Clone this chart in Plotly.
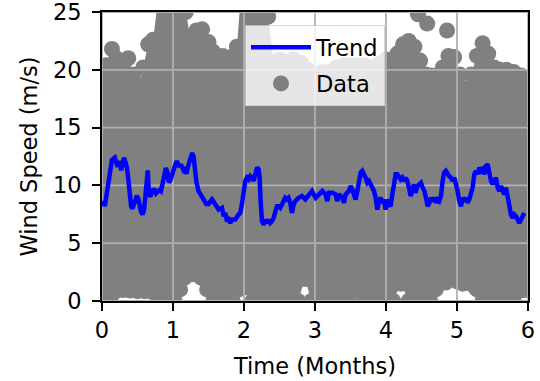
import plotly.graph_objects as go

# Axis ticks
x_ticks = [0, 1, 2, 3, 4, 5, 6]
y_ticks = [0, 5, 10, 15, 20, 25]

# Upper envelope of the raw wind-speed readings (months, m/s)
high_months = [0.00, 0.06, 0.14, 0.20, 0.28, 0.37, 0.44, 0.52, 0.58, 0.65, 0.72, 0.78, 0.88, 0.98,
               1.08, 1.18, 1.25, 1.33, 1.41, 1.50, 1.56, 1.62, 1.70, 1.78, 1.85, 1.90, 1.95, 2.05,
               2.15, 2.25, 2.34, 2.42, 2.50, 2.60, 2.70, 2.80, 2.90, 3.00, 3.10, 3.20, 3.30, 3.40,
               3.50, 3.60, 3.70, 3.80, 3.90, 4.00, 4.08, 4.16, 4.24, 4.32, 4.40, 4.48, 4.56, 4.64,
               4.72, 4.80, 4.88, 4.96, 5.04, 5.12, 5.20, 5.28, 5.36, 5.44, 5.52, 5.60, 5.70, 5.80,
               5.90, 6.00]
high_speed = [19.6, 20.4, 21.8, 21.0, 20.6, 21.0, 19.6, 18.6, 20.2, 22.2, 22.6, 25.6, 26.0, 26.0,
              26.0, 25.0, 22.6, 23.4, 23.5, 22.4, 21.6, 21.0, 21.2, 21.0, 21.2, 22.0, 26.0, 26.0,
              26.0, 26.0, 24.6, 20.6, 20.9, 20.7, 20.9, 20.6, 20.0, 19.6, 19.8, 19.8, 20.2, 20.4,
              20.4, 20.4, 20.4, 20.2, 20.5, 20.9, 20.4, 21.4, 22.2, 22.5, 22.0, 20.8, 19.6, 19.5,
              19.5, 20.2, 21.2, 21.1, 19.6, 18.4, 19.6, 21.2, 22.3, 21.4, 20.2, 20.0, 20.0, 19.8,
              19.5, 19.3]

# Lower envelope of the raw readings
low_months = [0.00, 0.12, 0.20, 0.30, 0.40, 0.50, 0.60, 0.70, 0.80, 0.92, 1.02, 1.10, 1.16, 1.24,
              1.32, 1.40, 1.48, 1.57, 1.70, 1.84, 1.93, 1.98, 2.03, 2.12, 2.40, 2.70, 2.76, 2.86,
              2.95, 3.10, 3.30, 3.48, 3.56, 3.61, 3.70, 3.90, 4.10, 4.21, 4.32, 4.50, 4.62, 4.70,
              4.76, 4.84, 4.93, 5.00, 5.08, 5.16, 5.22, 5.28, 5.36, 5.50, 5.70, 5.80, 5.88, 5.94,
              6.00]
low_speed = [0.0, 0.0, 0.85, 0.95, 0.9, 0.85, 0.85, 0.8, 0.0, 0.0, 0.0, 1.0, 2.0, 2.3,
             2.3, 2.0, 1.0, 0.0, 0.0, 0.0, 1.0, 1.5, 1.2, 0.0, 0.0, 0.0, 0.0, 1.9,
             0.0, 0.0, 0.0, 0.0, 0.9, 1.0, 0.0, 0.0, 0.0, 1.5, 0.0, 0.0, 0.0, 1.0,
             1.5, 1.6, 2.3, 1.7, 1.5, 1.6, 1.4, 1.0, 0.0, 0.0, 0.0, 0.0, 0.9, 0.95,
             0.95]

# Isolated gusts above the main cloud
gust_months = [4.45, 4.58, 4.86]
gust_speed = [24.8, 24.0, 23.4]

# Smoothed trend
trend_months = [
    0.00, 0.02, 0.04, 0.06, 0.08, 0.10, 0.11, 0.12, 0.14, 0.16, 0.18, 0.20, 0.22, 0.23, 0.25,
    0.27, 0.29, 0.31, 0.33, 0.35, 0.37, 0.39, 0.41, 0.43, 0.45, 0.47, 0.49, 0.51, 0.53, 0.55,
    0.57, 0.59, 0.61, 0.63, 0.645, 0.66, 0.68, 0.70, 0.72, 0.74, 0.76, 0.79, 0.81, 0.83, 0.86,
    0.88, 0.90, 0.92, 0.94, 0.96, 0.98, 1.00, 1.02, 1.05, 1.07, 1.09, 1.11, 1.13, 1.15, 1.17,
    1.19, 1.21, 1.23, 1.25, 1.27, 1.29, 1.31, 1.33, 1.36, 1.39, 1.43, 1.47, 1.50,
    1.55, 1.596, 1.643, 1.690, 1.713, 1.737, 1.760, 1.784, 1.807, 1.83, 1.877, 1.924, 1.948,
    1.97, 1.995, 2.018, 2.042, 2.065, 2.089, 2.112, 2.135, 2.159, 2.183, 2.206, 2.22, 2.234,
    2.253, 2.277, 2.30, 2.324, 2.347, 2.37, 2.394, 2.417, 2.44, 2.464, 2.488, 2.511, 2.535,
    2.558, 2.581, 2.605, 2.628, 2.652, 2.675, 2.70, 2.722, 2.77, 2.816, 2.863, 2.91, 2.957,
    3.009, 3.056, 3.103, 3.150, 3.173, 3.197, 3.244, 3.291, 3.314, 3.338, 3.385, 3.408, 3.431,
    3.478, 3.502, 3.525, 3.549, 3.572, 3.596, 3.619, 3.643, 3.666, 3.69, 3.713, 3.737, 3.76,
    3.784, 3.807, 3.831, 3.854, 3.878, 3.901, 3.924, 3.948, 3.971, 3.995, 4.018, 4.042, 4.065,
    4.089, 4.112, 4.136, 4.159, 4.183, 4.206, 4.23, 4.253, 4.277, 4.30, 4.324, 4.347, 4.37,
    4.394, 4.417, 4.441,
    4.469, 4.493, 4.516, 4.54, 4.563, 4.587, 4.61, 4.633, 4.657, 4.68, 4.704, 4.727, 4.75,
    4.774, 4.797, 4.82, 4.844, 4.868, 4.89, 4.915, 4.938, 4.962, 4.985, 5.009, 5.032, 5.056,
    5.079, 5.103, 5.126, 5.15, 5.173, 5.197, 5.22, 5.244, 5.267, 5.291, 5.314, 5.338, 5.361,
    5.385, 5.408, 5.432, 5.455, 5.479, 5.502, 5.526, 5.549, 5.573, 5.596, 5.62, 5.643, 5.667,
    5.69, 5.714, 5.737, 5.76, 5.784, 5.808, 5.831, 5.855, 5.878, 5.901, 5.925, 5.948]
trend_speed = [
    8.3, 8.6, 8.2, 9.0, 9.6, 10.2, 10.7, 11.6, 12.2, 12.3, 12.4, 12.0, 11.6, 11.8, 12.1,
    11.3, 12.2, 12.4, 12.0, 11.6, 10.6, 8.9, 8.2, 8.0, 8.4, 8.8, 9.1, 8.9, 8.1, 7.7,
    7.5, 7.8, 9.0, 10.4, 11.3, 9.4, 9.0, 9.4, 9.6, 9.6, 9.3, 9.5, 9.6, 9.5, 10.2,
    11.0, 11.5, 11.2, 10.3, 10.4, 10.8, 11.0, 11.5, 12.1, 11.9, 11.6, 11.8, 11.4, 11.3, 11.4,
    11.0, 11.6, 12.1, 12.6, 12.8, 12.5, 10.7, 10.3, 9.5, 9.2, 8.8, 8.4, 8.4,
    8.79, 8.35, 7.91, 8.06, 7.33, 7.62, 6.9, 7.04, 6.75, 7.04, 7.04, 7.48, 7.62,
    8.35, 9.51, 10.38, 10.67, 10.52, 10.8, 10.67, 10.38, 11.25, 11.54, 11.4, 10.67, 8.64,
    6.9, 6.6, 7.04, 6.75, 7.04, 6.75, 6.9, 7.19, 7.77, 8.2, 8.2, 8.06, 8.35,
    8.64, 8.93, 8.79, 8.93, 8.5, 7.62, 8.35, 8.64, 8.93, 9.08, 8.79, 9.22, 9.51,
    8.93, 9.22, 9.51, 9.22, 8.64, 9.36, 9.36, 9.22, 8.64, 9.22, 8.93, 8.49, 9.22,
    9.51, 9.94, 9.65, 9.22, 8.78, 9.51, 10.67, 11.1, 11.25, 10.8, 10.67, 10.23, 10.38,
    10.09, 9.8, 9.51, 8.93, 7.9, 8.64, 8.93, 8.49, 8.78, 7.9, 8.78, 8.35, 8.2,
    9.22, 10.23, 10.96, 10.96, 10.67, 10.52, 10.67, 10.38, 10.67, 10.38, 9.8, 9.07, 9.51,
    10.09, 9.36, 9.94,
    10.09, 10.23, 9.8, 9.51, 8.93, 8.2, 8.49, 8.93, 8.64, 8.93, 8.49, 8.78, 8.64,
    9.07, 10.38, 11.1, 11.25, 10.96, 10.8, 10.67, 10.38, 10.67, 10.23, 9.51, 8.64, 8.2,
    8.93, 8.64, 8.93, 8.49, 8.78, 9.22, 9.8, 10.96, 11.25, 10.96, 11.54, 11.25, 11.4,
    10.96, 11.68, 11.83, 10.8, 10.38, 10.09, 10.52, 10.67, 9.8, 9.51, 9.94, 9.65, 9.22,
    9.8, 8.93, 8.35, 7.48, 7.19, 7.48, 7.33, 7.04, 6.75, 7.04, 7.48, 7.62]

GRAY = "#808080"
BLUE = "#0000ff"
FONT = "DejaVu Sans"
FS = 22.5
MS = 16

fig = go.Figure()

# Raw readings: lower edge, then upper edge filled down to it
fig.add_trace(go.Scatter(
    x=low_months, y=low_speed, mode="lines+markers", line=dict(width=0, color=GRAY),
    marker=dict(color=GRAY, size=MS), showlegend=False, hoverinfo="skip"))
fig.add_trace(go.Scatter(
    x=high_months, y=high_speed, mode="lines+markers", line=dict(width=0, color=GRAY),
    fill="tonexty", fillcolor=GRAY,
    marker=dict(color=GRAY, size=MS), showlegend=False, hoverinfo="skip"))
fig.add_trace(go.Scatter(
    x=gust_months, y=gust_speed, mode="markers", name="Data",
    marker=dict(color=GRAY, size=MS), legendgroup="data", legendrank=2))

# Grid drawn over the scatter cloud but beneath the trend
gx, gy = [], []
for t in x_ticks:
    gx += [t, t, None]
    gy += [y_ticks[0], y_ticks[-1], None]
for v in y_ticks:
    gx += [x_ticks[0], x_ticks[-1], None]
    gy += [v, v, None]
fig.add_trace(go.Scatter(
    x=gx, y=gy, mode="lines", line=dict(color="#b0b0b0", width=1.8),
    showlegend=False, hoverinfo="skip"))

fig.add_trace(go.Scatter(
    x=trend_months, y=trend_speed, mode="lines", name="Trend",
    line=dict(color=BLUE, width=4.5), legendgroup="trend", legendrank=1))

axis_common = dict(
    showgrid=False, zeroline=False, showline=True, linecolor="black", linewidth=1.8,
    mirror=True, ticks="outside", ticklen=8, tickwidth=1.8, tickcolor="black",
    tickfont=dict(family=FONT, size=FS, color="black"), automargin=False,
    ticklabeloverflow="allow",
)

fig.update_layout(
    width=540, height=381,
    margin=dict(l=102, r=12, t=12, b=80),
    paper_bgcolor="white", plot_bgcolor="white",
    font=dict(family=FONT, size=FS, color="black"),
    xaxis=dict(range=[0, 6], tickvals=x_ticks,
               title=dict(text="Time (Months)", font=dict(family=FONT, size=FS), standoff=16),
               **axis_common),
    yaxis=dict(range=[0, 25.0001], tickvals=y_ticks, ticklabelstandoff=6,
               title=dict(text="Wind Speed (m/s)", font=dict(family=FONT, size=FS), standoff=9),
               **axis_common),
    legend=dict(
        x=0.5, xanchor="center", y=0.955, yanchor="top",
        bgcolor="rgba(255,255,255,0.8)", bordercolor="rgba(204,204,204,0.8)", borderwidth=1,
        font=dict(family=FONT, size=FS, color="black"),
        traceorder="grouped", tracegroupgap=4, itemwidth=60,
    ),
    showlegend=True,
)

fig.write_html("out.html")
